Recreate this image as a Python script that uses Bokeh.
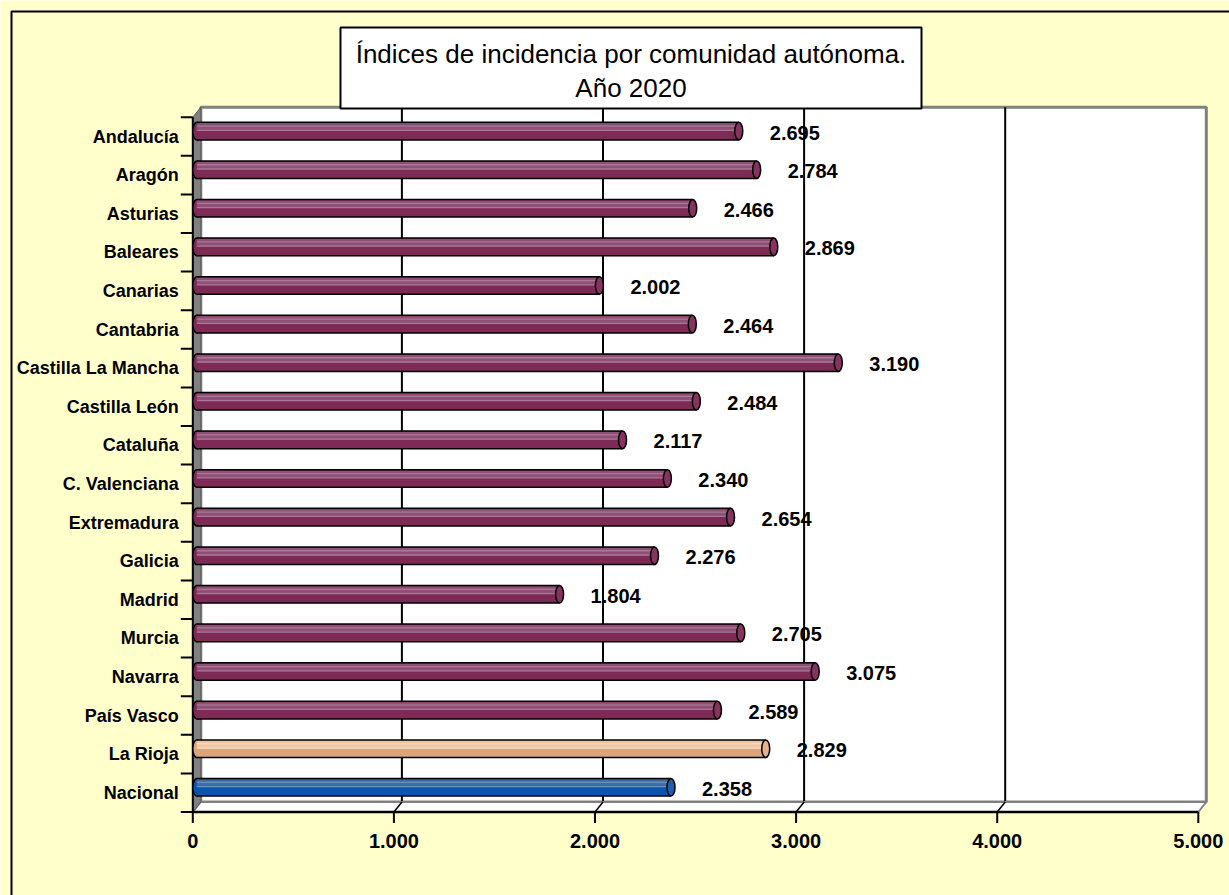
from bokeh.plotting import figure
from bokeh.models import Range1d
from bokeh.core.properties import value
from bokeh.embed import file_html
from bokeh.resources import INLINE

# ---------------- data ----------------
categories = ["Andalucía", "Aragón", "Asturias", "Baleares", "Canarias", "Cantabria",
              "Castilla La Mancha", "Castilla León", "Cataluña", "C. Valenciana",
              "Extremadura", "Galicia", "Madrid", "Murcia", "Navarra", "País Vasco",
              "La Rioja", "Nacional"]
values = [2695, 2784, 2466, 2869, 2002, 2464, 3190, 2484, 2117, 2340,
          2654, 2276, 1804, 2705, 3075, 2589, 2829, 2358]
value_labels = ["2.695", "2.784", "2.466", "2.869", "2.002", "2.464", "3.190", "2.484",
                "2.117", "2.340", "2.654", "2.276", "1.804", "2.705", "3.075", "2.589",
                "2.829", "2.358"]
x_ticks = [0, 1000, 2000, 3000, 4000, 5000]
x_tick_labels = ["0", "1.000", "2.000", "3.000", "4.000", "5.000"]
title_lines = ["Índices de incidencia por comunidad autónoma.", "Año 2020"]

# ---------------- geometry helpers (screen layout) ----------------
W, H = 1229, 895
PAGE = 0
X0, SX = 192.3, 0.2011      # page x of value 0, pixels per unit
Y0, RS = 136.0, 38.6        # page y of top row centre, pixels per row
N = len(categories)
TOP = N - 1


def ux(px):
    return px / SX


def uy(px):
    return px / RS


def vx(page_x):
    return (page_x - X0) / SX


def ry(page_y):
    return TOP - (page_y - Y0) / RS


FONT = value("Liberation Sans")
YELLOW = "#FFFFCC"

p = figure(width=W, height=H,
           x_range=Range1d(vx(PAGE), vx(PAGE + W)),
           y_range=Range1d(ry(PAGE + H), ry(PAGE)),
           output_backend="svg", toolbar_location=None,
           x_axis_location=None, y_axis_location=None,
           min_border=0, background_fill_color=YELLOW,
           border_fill_color=YELLOW, outline_line_color=None)
p.grid.visible = False

rows = [TOP - i for i in range(N)]
XMAX = x_ticks[-1]
FY0, FY1 = -0.5, N - 0.5
DX, DY = ux(8), uy(10)

# outer chart border
p.line(x=[vx(11), vx(11), vx(1260)], y=[ry(920), ry(11), ry(11)],
       line_color="black", line_width=2)

# back wall
p.quad(left=DX, right=XMAX + DX, bottom=FY0 + DY, top=FY1 + DY,
       fill_color="white", line_color="#808080", line_width=3)

# gridlines on back wall
gx = [v + DX for v in x_ticks[1:-1]]
p.segment(x0=gx, y0=FY0 + DY, x1=gx, y1=FY1 + DY, line_color="black", line_width=2)

# floor
p.patch([0, XMAX, XMAX + DX, DX], [FY0, FY0, FY0 + DY, FY0 + DY],
        fill_color="white", line_color="#808080", line_width=2)
p.segment(x0=x_ticks[1:-1], y0=FY0, x1=gx, y1=FY0 + DY,
          line_color="black", line_width=1.5)

# side wall
p.patch([0, 0, DX, DX], [FY0, FY1, FY1 + DY, FY0 + DY],
        fill_color="#808080", line_color="#5a5a5a", line_width=1)

# axis lines
p.line([0, XMAX], [FY0, FY0], line_color="black", line_width=2.5)
p.line([0, 0], [FY0, FY1], line_color="black", line_width=2)

# ticks
p.segment(x0=x_ticks, y0=FY0, x1=x_ticks, y1=FY0 - uy(11),
          line_color="black", line_width=2)
bounds = [r - 0.5 for r in range(N + 1)]
p.segment(x0=0, y0=bounds, x1=-ux(12), y1=bounds, line_color="black", line_width=2)

# bars (cylinders)
base = ["#7d2b55"] * (N - 2) + ["#dba67c", "#0b56ad"]
band = ["#8e5075"] * (N - 2) + ["#eec5a3", "#3d6ea7"]
shine = ["#a9789a"] * (N - 2) + ["#f6d8bd", "#6a90bb"]
cap = ["#86345f"] * (N - 2) + ["#e2b28c", "#1a5fb0"]

BH = uy(17.6)
bar_y = [r + uy(5.4) for r in rows]
left = ux(4)
rights = [v + ux(4) for v in values]

p.ellipse(x=left, y=bar_y, width=ux(8), height=BH, fill_color=base,
          line_color="black", line_width=1.5)
p.hbar(y=bar_y, left=left, right=rights, height=BH, fill_color=base, line_color=None)
p.hbar(y=[b + BH / 2 - uy(1) - BH * 0.21 for b in bar_y], left=left, right=rights,
       height=BH * 0.42, fill_color=band, line_color=None)
p.hbar(y=[b + BH * 0.28 for b in bar_y], left=left, right=rights,
       height=uy(1.3), fill_color=shine, line_color=None)
p.hbar(y=[b + BH * 0.04 for b in bar_y], left=left, right=rights,
       height=uy(1.3), fill_color=shine, line_color=None)
p.segment(x0=left, y0=[b + BH / 2 for b in bar_y], x1=rights,
          y1=[b + BH / 2 for b in bar_y], line_color="black", line_width=1.5)
p.segment(x0=left, y0=[b - BH / 2 for b in bar_y], x1=rights,
          y1=[b - BH / 2 for b in bar_y], line_color="black", line_width=1.5)
p.ellipse(x=rights, y=bar_y, width=ux(8), height=BH, fill_color=cap,
          line_color="black", line_width=1.5)

# value labels
p.text(x=values, y=[r + uy(4) for r in rows], text=value_labels, x_offset=35,
       text_align="left", text_baseline="middle", text_font=FONT,
       text_font_style="bold", text_font_size="20px", text_color="black")

# category labels
p.text(x=-ux(14), y=rows, text=categories, text_align="right",
       text_baseline="middle", text_font=FONT, text_font_style="bold",
       text_font_size="18px", text_color="black")

# x tick labels
p.text(x=x_ticks, y=FY0 - uy(29), text=x_tick_labels, text_align="center",
       text_baseline="middle", text_font=FONT, text_font_style="bold",
       text_font_size="20px", text_color="black")

# title box
p.quad(left=vx(340), right=vx(921), top=ry(27), bottom=ry(108),
       fill_color="white", line_color="black", line_width=2)
p.text(x=vx(630.5), y=[ry(53), ry(87)], text=title_lines, text_align="center",
       text_baseline="middle", text_font=FONT, text_font_size="26px",
       text_color="black")

open("out.html", "w").write(file_html(p, INLINE))
